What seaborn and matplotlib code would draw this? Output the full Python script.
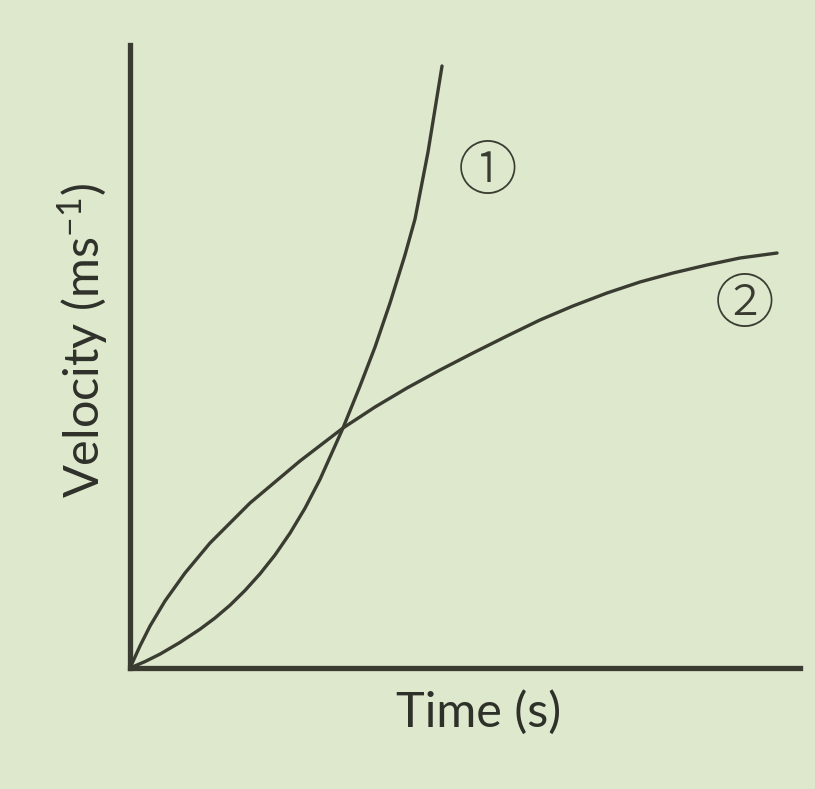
import matplotlib
matplotlib.use("Agg")
import matplotlib.pyplot as plt
import seaborn as sns
import pandas as pd

# Curve 1 (accelerating)
t1 = [0.0, 0.224, 0.448, 0.746, 1.045, 1.269, 1.493, 1.716, 1.940, 2.164, 2.388,
      2.612, 2.836, 3.179, 3.433, 3.657, 3.881, 4.104, 4.254, 4.448, 4.657]
v1 = [0.0, 0.103, 0.223, 0.411, 0.623, 0.803, 1.008, 1.244, 1.511, 1.814, 2.164,
      2.565, 3.028, 3.852, 4.526, 5.152, 5.859, 6.629, 7.207, 8.283, 9.663]
# Curve 2 (decelerating)
t2 = [0.0, 0.149, 0.299, 0.522, 0.821, 1.194, 1.791, 2.537, 3.179, 3.657, 4.134,
      4.627, 5.119, 5.627, 6.119, 6.612, 7.119, 7.612, 8.104, 8.612, 9.104, 9.657]
v2 = [0.0, 0.353, 0.674, 1.075, 1.525, 2.006, 2.648, 3.323, 3.852, 4.189, 4.494,
      4.783, 5.056, 5.329, 5.586, 5.811, 6.019, 6.196, 6.340, 6.469, 6.581, 6.661]

curve_labels = ["\u2460", "\u2461"]
label_pos_t = [5.34, 9.18]
label_pos_v = [7.94, 5.80]
x_title = "Time (s)"
y_title = "Velocity (ms$^{-1}$)"

bg = "#dde8cc"
ink = "#3a3c32"

sns.set_theme(style="white")
plt.rcParams['font.family'] = ['Lato', 'DejaVu Sans']
plt.rcParams['mathtext.default'] = 'regular'

fig = plt.figure(figsize=(8.15, 7.89), dpi=100, facecolor=bg)
ax = fig.add_axes([130/815, 1 - 668/789, 670/815, 623/789])
ax.set_facecolor(bg)

df1 = pd.DataFrame({"t": t1, "v": v1})
df2 = pd.DataFrame({"t": t2, "v": v2})
sns.lineplot(data=df1, x="t", y="v", ax=ax, color=ink, lw=2.4, sort=False)
sns.lineplot(data=df2, x="t", y="v", ax=ax, color=ink, lw=2.4, sort=False)

ax.set_xlim(0, 10)
ax.set_ylim(0, 10)
ax.set_xticks([])
ax.set_yticks([])
for s in ["top", "right"]:
    ax.spines[s].set_visible(False)
for s in ["left", "bottom"]:
    ax.spines[s].set_color(ink)
    ax.spines[s].set_linewidth(3.8)
    ax.spines[s].set_capstyle("projecting")

ax.set_xlabel(x_title, fontsize=35, color="#2e302a", fontweight="normal")
ax.xaxis.set_label_coords(0.52, -0.036)
ax.set_ylabel(y_title, fontsize=35, color="#2e302a", fontweight="normal")
ax.yaxis.set_label_coords(-0.030, 0.526)

for lab, tx, vy in zip(curve_labels, label_pos_t, label_pos_v):
    ax.text(tx, vy, lab, fontsize=43, color=ink, ha="center", va="center",
            family=['Noto Sans CJK JP', 'DejaVu Sans'], fontweight="light")

fig.savefig("out.png", dpi=100, facecolor=bg)
